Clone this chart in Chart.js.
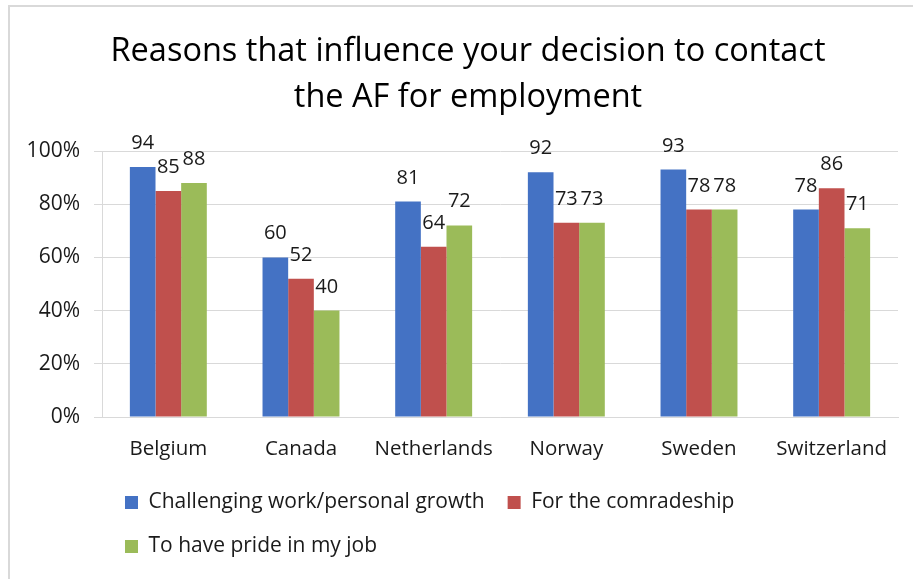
<!DOCTYPE html>
<html>
<head>
<meta charset="utf-8">
<script src="https://cdn.jsdelivr.net/npm/chart.js@4.4.0/dist/chart.umd.min.js"></script>
<style>
  html, body { margin: 0; padding: 0; background: #ffffff; overflow: hidden; }
  #frame { position: absolute; left: 8px; top: 5px; width: 960px; height: 640px;
           border: 2px solid #d9d9d9; box-sizing: border-box; }
  #chart { position: absolute; left: 0; top: 0; }
</style>
</head>
<body>
<div id="frame"></div>
<canvas id="chart" width="913" height="579"></canvas>
<script>
// Survey answers, percent of respondents per country
const countries = ['Belgium', 'Canada', 'Netherlands', 'Norway', 'Sweden', 'Switzerland'];
const seriesNames = ['Challenging work/personal growth', 'For the comradeship', 'To have pride in my job'];
const challengingWork = [94, 60, 81, 92, 93, 78];
const comradeship = [85, 52, 64, 73, 78, 86];
const prideInJob = [88, 40, 72, 73, 78, 71];
const titleLines = ['Reasons that influence your decision to contact', 'the AF for employment'];

const FONT = '"Open Sans", Lato, sans-serif';
const TEXT = '#1a1a1a';
const GRID = '#d9d9d9';

// Writes each bar's value just above its top
const valueLabels = {
  id: 'valueLabels',
  afterDatasetsDraw(chart) {
    const ctx = chart.ctx;
    ctx.save();
    ctx.font = '20px ' + FONT;
    ctx.fillStyle = TEXT;
    ctx.textAlign = 'center';
    ctx.textBaseline = 'alphabetic';
    chart.data.datasets.forEach((ds, di) => {
      const meta = chart.getDatasetMeta(di);
      meta.data.forEach((bar, i) => {
        ctx.fillText(String(ds.data[i]), bar.x, bar.y - 18);
      });
    });
    ctx.restore();
  }
};

new Chart(document.getElementById('chart'), {
  type: 'bar',
  data: {
    labels: countries,
    datasets: [
      { label: seriesNames[0], data: challengingWork, backgroundColor: '#4472C4' },
      { label: seriesNames[1], data: comradeship, backgroundColor: '#C0504D' },
      { label: seriesNames[2], data: prideInJob, backgroundColor: '#9BBB59' }
    ]
  },
  options: {
    responsive: false,
    animation: false,
    devicePixelRatio: 1,
    layout: { padding: { left: 23, right: 0, top: 0, bottom: 12 } },
    datasets: { bar: { categoryPercentage: 0.58, barPercentage: 1.0, borderWidth: 0 } },
    plugins: {
      title: {
        display: true,
        text: titleLines,
        color: '#000000',
        font: { family: FONT, size: 32.5, weight: 'normal', lineHeight: 1.4 },
        padding: { top: 29.25, bottom: 30.75 }
      },
      legend: {
        position: 'bottom',
        align: 'start',
        fullSize: false,
        labels: {
          boxWidth: 13,
          boxHeight: 13,
          padding: 23,
          color: TEXT,
          font: { family: FONT, size: 21 }
        }
      },
      tooltip: { enabled: false }
    },
    scales: {
      x: {
        grid: { display: false, drawTicks: false },
        border: { display: true, color: GRID, width: 1 },
        ticks: { color: TEXT, font: { family: FONT, size: 20.5 }, padding: 20, maxRotation: 0 },
        afterFit(scale) { scale.height = 52; }
      },
      y: {
        min: 0,
        max: 100,
        ticks: {
          stepSize: 20,
          color: TEXT,
          font: { family: FONT, size: 21 },
          padding: 14,
          callback: (v) => v + '%'
        },
        grid: { color: GRID, lineWidth: 1, tickLength: 8, drawTicks: true },
        border: { display: true, color: GRID, width: 1 },
        afterFit(scale) { scale.width = 79; }
      },
      edge: {
        position: 'right',
        display: true,
        ticks: { display: false },
        grid: { display: false, drawTicks: false },
        border: { display: false },
        afterFit(scale) { scale.width = 15; }
      }
    }
  },
  plugins: [valueLabels]
});
</script>
</body>
</html>
